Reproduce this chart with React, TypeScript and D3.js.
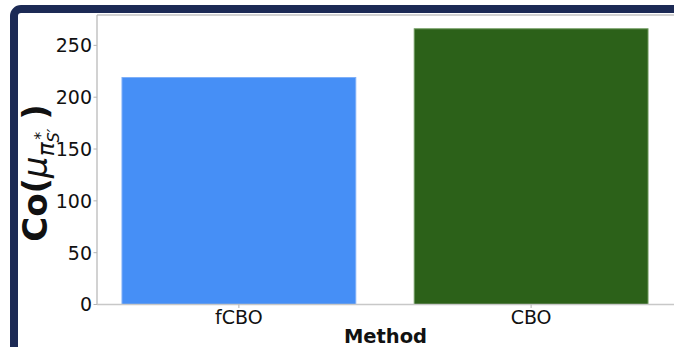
import React from "react";
import * as d3 from "d3";

const categories = ["fCBO", "CBO"];
const values = [219, 266];
const barColors = ["#468ff6", "#2c6119"];
const barEdges = ["#7fb0f8", "#6f9a5e"];
const yTicks = [0, 50, 100, 150, 200, 250];

const W = 674;
const H = 347;
const left = 97;
const right = 673;
const top = 15;
const bottom = 304.5;

export default function App() {
  const x = d3
    .scaleBand<string>()
    .domain(categories)
    .range([left, right])
    .paddingInner(0.2)
    .paddingOuter(0.0855);
  const y = d3.scaleLinear().domain([0, 279.3]).range([bottom, top]);
  const font = "'DejaVu Sans', sans-serif";

  return (
    <svg
      width={W}
      height={H}
      style={{ position: "absolute", left: 0, top: 0, display: "block", background: "#fff" }}
      fontFamily={font}
    >
      {/* outer frame */}
      <rect x={14} y={9} width={W + 40} height={H + 40} rx={7} fill="none" stroke="#1c2a55" strokeWidth={8} />

      {/* bars */}
      {categories.map((c, i) => (
        <rect
          key={c}
          x={x(c)!}
          y={y(values[i])}
          width={x.bandwidth()}
          height={bottom - y(values[i])}
          fill={barColors[i]}
          stroke={barEdges[i]}
          strokeWidth={1}
        />
      ))}

      {/* spines */}
      <line x1={left} x2={W} y1={top} y2={top} stroke="#d2d2d2" strokeWidth={2} />
      <line x1={left} x2={left} y1={top} y2={bottom} stroke="#b4b4b4" strokeWidth={1.2} />
      <line x1={left} x2={W} y1={bottom} y2={bottom} stroke="#c8c8c8" strokeWidth={1.6} />

      {/* y ticks */}
      {yTicks.map((t) => (
        <g key={t}>
          <line x1={left - 3.5} x2={left} y1={y(t)} y2={y(t)} stroke="#b4b4b4" strokeWidth={1} />
          <text x={left - 5} y={y(t)} dy="0.36em" textAnchor="end" fontSize={19} fill="#111">
            {t}
          </text>
        </g>
      ))}

      {/* x ticks */}
      {categories.map((c) => {
        const cx = x(c)! + x.bandwidth() / 2;
        return (
          <g key={c}>
            <line x1={cx} x2={cx} y1={bottom} y2={bottom + 3.5} stroke="#b4b4b4" strokeWidth={1} />
            <text x={cx} y={324} textAnchor="middle" fontSize={19} fill="#111">
              {c}
            </text>
          </g>
        );
      })}

      {/* axis titles */}
      <text x={(left + W) / 2} y={343} textAnchor="middle" fontSize={19.5} fontWeight="bold" fill="#111">
        Method
      </text>
      <text transform="translate(47,173) rotate(-90)" textAnchor="middle" fontSize={34} fontWeight="bold" fill="#111">
        <tspan>Co(</tspan>
        <tspan fontStyle="italic" fontWeight="normal">μ</tspan>
        <tspan fontStyle="italic" fontWeight="normal" fontSize={23} dy={7}>π</tspan>
        <tspan fontStyle="italic" fontWeight="normal" fontSize={16} dy={5}>S′</tspan>
        <tspan fontWeight="normal" fontSize={16} dx={-11} dy={-13}>*</tspan>
        <tspan dy={1}> )</tspan>
      </text>
    </svg>
  );
}
